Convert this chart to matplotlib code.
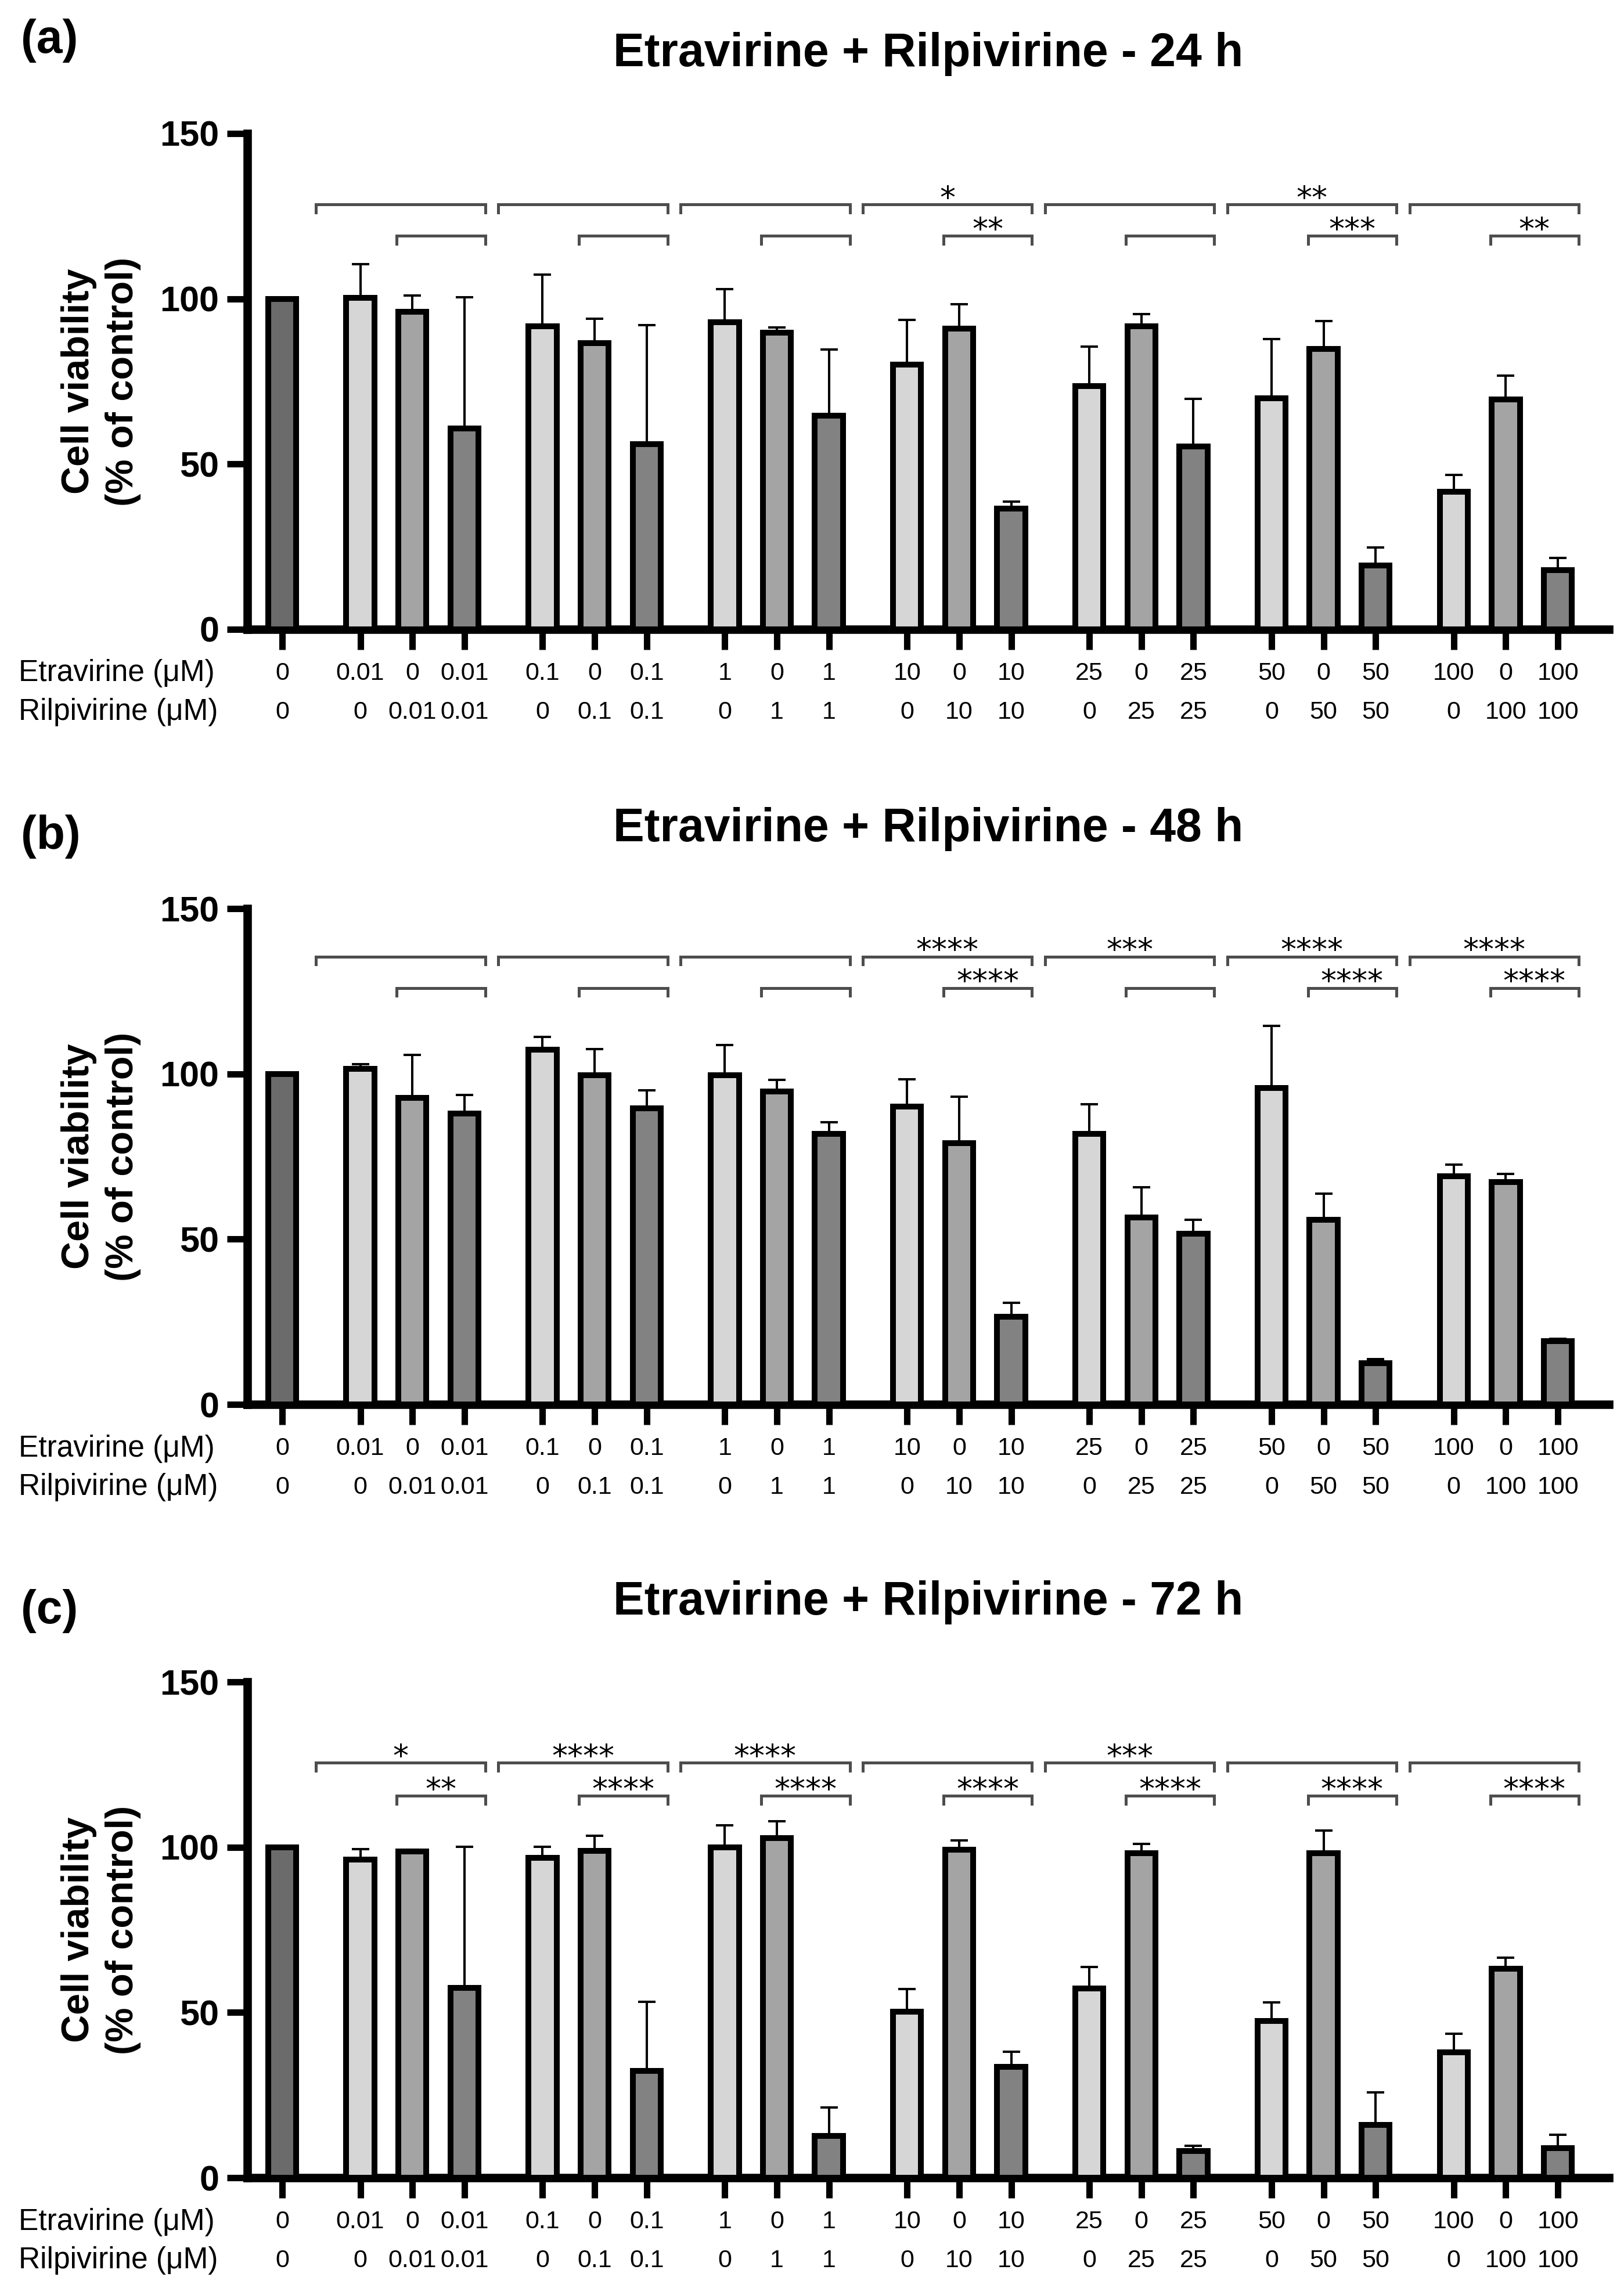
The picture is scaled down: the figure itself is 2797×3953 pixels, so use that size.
# Etravirine + Rilpivirine cell viability, 24 / 48 / 72 h
import matplotlib
matplotlib.use("Agg")
import matplotlib.pyplot as plt
import matplotlib.transforms as mtrans
import numpy as np

# x labels (concentrations, uM)
etra_labels = ["0", "0.01", "0", "0.01", "0.1", "0", "0.1", "1", "0", "1",
               "10", "0", "10", "25", "0", "25", "50", "0", "50", "100", "0", "100"]
rilpi_labels = ["0", "0", "0.01", "0.01", "0", "0.1", "0.1", "0", "1", "1",
                "0", "10", "10", "0", "25", "25", "0", "50", "50", "0", "100", "100"]

titles = ["Etravirine + Rilpivirine - 24 h",
          "Etravirine + Rilpivirine - 48 h",
          "Etravirine + Rilpivirine - 72 h"]
panel_tags = ["(a)", "(b)", "(c)"]

# mean viability (% of control) and SD (upper only)
mean_24h = [100, 100.3, 96.0, 60.8, 91.6, 86.6, 56.1, 93.0, 89.8, 64.6, 80.1,
            91.0, 36.5, 73.6, 91.6, 55.4, 69.9, 84.8, 19.4, 41.6, 69.5, 18.0]
err_24h = [0, 10.1, 5.0, 39.6, 15.8, 7.4, 36.0, 10.0, 1.5, 20.0, 13.5,
           7.3, 2.2, 11.9, 3.8, 14.4, 18.0, 8.5, 5.4, 5.2, 7.3, 3.6]

mean_48h = [100, 101.5, 92.8, 88.0, 107.3, 99.6, 89.5, 99.6, 94.6, 81.8, 90.1,
            79.1, 26.6, 81.8, 56.5, 51.6, 95.8, 55.8, 12.4, 69.1, 67.3, 19.1]
err_48h = [0, 1.5, 13.0, 5.6, 3.8, 7.9, 5.5, 9.2, 3.6, 3.6, 8.3,
           14.0, 4.2, 9.0, 9.2, 4.2, 18.8, 7.9, 1.3, 3.5, 2.5, 0.7]

mean_72h = [100, 96.3, 98.7, 57.4, 96.8, 98.8, 32.4, 99.9, 102.8, 12.7, 50.2,
            99.3, 33.5, 57.2, 98.1, 8.1, 47.4, 98.1, 15.9, 37.9, 63.3, 8.9]
err_72h = [0, 3.1, 0.5, 42.7, 3.4, 4.7, 20.9, 6.7, 5.1, 8.5, 6.9,
           2.7, 4.6, 6.6, 2.9, 1.6, 5.6, 7.0, 9.9, 5.7, 3.2, 4.1]

# significance per concentration group: outer = Etra vs combo, inner = Rilpi vs combo
outer_sig_24h = ["", "", "", "*", "", "**", ""]
inner_sig_24h = ["", "", "", "**", "", "***", "**"]
outer_sig_48h = ["", "", "", "****", "***", "****", "****"]
inner_sig_48h = ["", "", "", "****", "", "****", "****"]
outer_sig_72h = ["*", "****", "****", "", "***", "", ""]
inner_sig_72h = ["**", "****", "****", "****", "****", "****", "****"]

means = [mean_24h, mean_48h, mean_72h]
errs = [err_24h, err_48h, err_72h]
outer_sigs = [outer_sig_24h, outer_sig_48h, outer_sig_72h]
inner_sigs = [inner_sig_24h, inner_sig_48h, inner_sig_72h]

# ---- layout (pixels of the 2797 x 3953 canvas) ----
W, H = 2797, 3953
ax_left, ax_right = 426, 2771
ax_bottoms = [1084, 2419, 3751]
ax_height = 854
bracket_levels = [(128.5, 119), (135.5, 126), (125.5, 115.5)]
tag_y = [70, 1441, 2775]

col_ctrl, col_e, col_r, col_c = "#6b6b6b", "#d6d6d6", "#a4a4a4", "#828282"

plt.rcParams["font.family"] = ["Liberation Sans", "DejaVu Sans"]

# bar positions: control then 7 groups of three
positions = [0.0]
colors = [col_ctrl]
for g in range(7):
    for k, c in enumerate([col_e, col_r, col_c]):
        positions.append(1.5 + 3.5 * g + k)
        colors.append(c)
positions = np.array(positions)

fig = plt.figure(figsize=(W / 100, H / 100), dpi=100)

for i in range(3):
    ax = fig.add_axes([ax_left / W, 1 - ax_bottoms[i] / H,
                       (ax_right - ax_left) / W, ax_height / H])
    m = np.array(means[i])
    e = np.array(errs[i])

    ax.errorbar(positions[1:], m[1:], yerr=[np.zeros(21), e[1:]], fmt="none",
                ecolor="black", elinewidth=2.9, capsize=10.8, capthick=2.9, zorder=2)
    ax.bar(positions, m, width=0.54, color=colors, edgecolor="black",
           linewidth=7.2, zorder=3)

    ax.set_xlim(-0.67, 25.48)
    ax.set_ylim(0, 150)
    ax.set_yticks([0, 50, 100, 150])
    ax.set_xticks(positions)
    ax.set_xticklabels([])
    for s in ["top", "right"]:
        ax.spines[s].set_visible(False)
    for s in ["left", "bottom"]:
        ax.spines[s].set_linewidth(10.5)
        ax.spines[s].set_capstyle("projecting")
    ax.tick_params(axis="both", length=25, width=8, direction="out")
    ax.tick_params(axis="y", labelsize=44, pad=10)
    for lab in ax.get_yticklabels():
        lab.set_fontweight("bold")

    # significance brackets
    hi, lo = bracket_levels[i]
    tip = 2.3
    for g in range(7):
        pe, pr, pc = positions[1 + 3 * g: 4 + 3 * g]
        for x0, x1, lev, sig in [(pe - 0.85, pc + 0.4, hi, outer_sigs[i][g]),
                                 (pr - 0.3, pc + 0.4, lo, inner_sigs[i][g])]:
            ax.plot([x0, x0, x1, x1], [lev - tip, lev, lev, lev - tip],
                    color="#4d4d4d", lw=3.6, solid_joinstyle="miter", zorder=4)
            if sig:
                ax.text((x0 + x1) / 2, lev - 1.0, sig, ha="center", va="baseline",
                        fontsize=39, family="DejaVu Sans")

    # two rows of concentration labels under the axis
    trans = mtrans.blended_transform_factory(ax.transData, ax.transAxes)
    ftrans = mtrans.blended_transform_factory(fig.transFigure, ax.transAxes)
    row1, row2 = -76 / ax_height, -143 / ax_height
    for p, et, rl in zip(positions, etra_labels, rilpi_labels):
        ax.text(p, row1, et, transform=trans, ha="center", va="center", fontsize=31)
        ax.text(p, row2, rl, transform=trans, ha="center", va="center", fontsize=31)
    ax.text(32 / W, row1, "Etravirine (μM)", transform=ftrans,
            ha="left", va="center", fontsize=37)
    ax.text(32 / W, row2, "Rilpivirine (μM)", transform=ftrans,
            ha="left", va="center", fontsize=37)

    # y label, title, panel tag
    ax.text(174 / W, 0.5, "Cell viability\n(% of control)", transform=ftrans,
            rotation=90, ha="center", va="center", fontsize=48,
            fontweight="bold", linespacing=1.3)
    top_px = ax_bottoms[i] - ax_height
    fig.text((ax_left + ax_right) / 2 / W, 1 - (top_px - 137) / H, titles[i],
             ha="center", va="center", fontsize=58, fontweight="bold")
    fig.text(36 / W, 1 - tag_y[i] / H, panel_tags[i], ha="left", va="center",
             fontsize=58, fontweight="bold")

fig.savefig("out.png", dpi=100)
